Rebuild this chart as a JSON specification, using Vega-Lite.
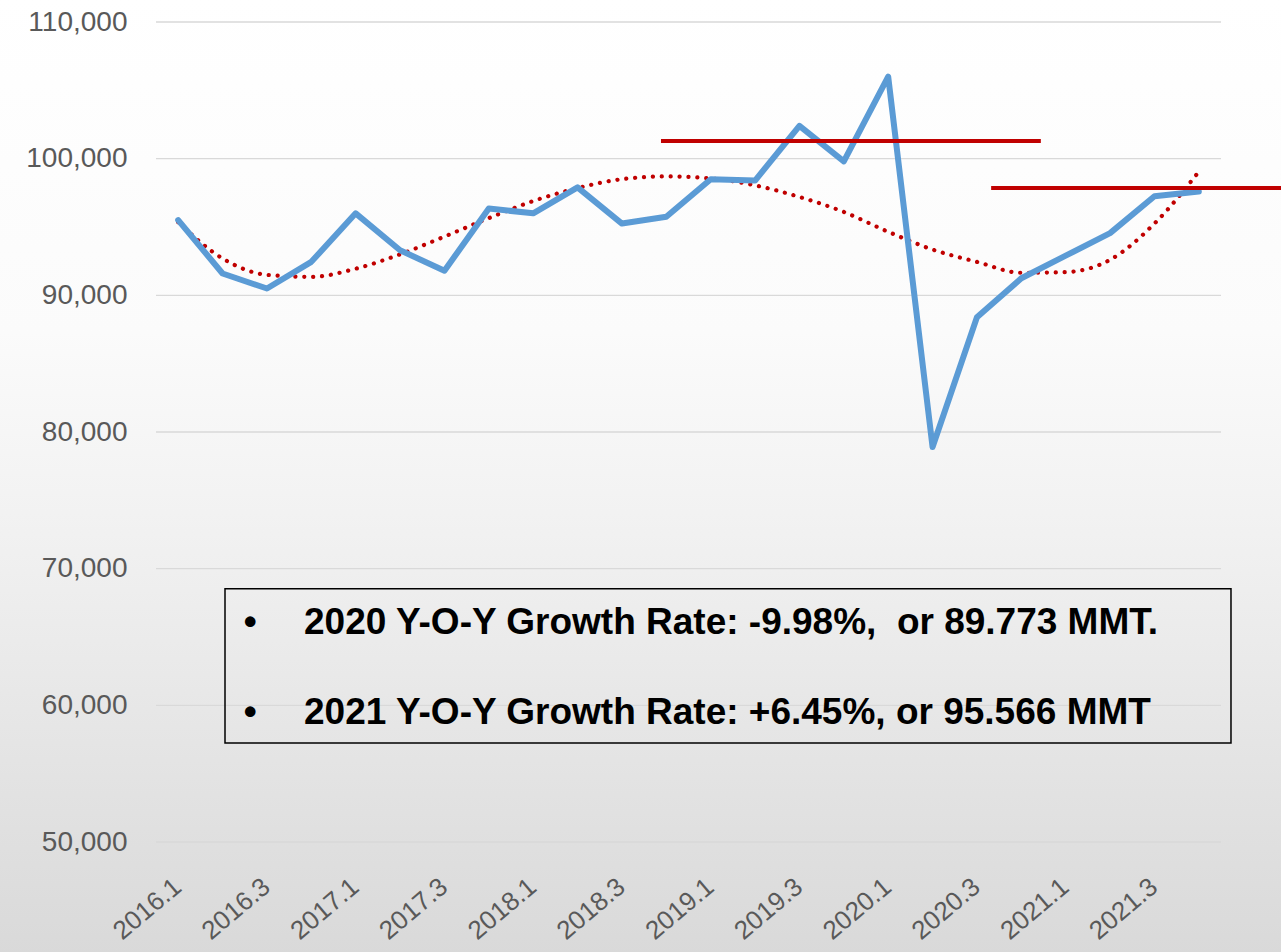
{
  "$schema": "https://vega.github.io/schema/vega-lite/v6.json",
  "width": 1065,
  "height": 820,
  "autosize": {"type": "none"},
  "padding": {"left": 156, "top": 22, "right": 60, "bottom": 110},
  "background": "#ececec",
  "config": {
    "view": {"stroke": null},
    "axis": {"grid": false, "ticks": false, "domain": false, "labelFont": "Liberation Sans", "labelFontSize": 28, "labelColor": "#595959"}
  },
  "resolve": {"scale": {"x": "independent"}, "axis": {"x": "independent"}},
  "datasets": {
    "series": [
      {"quarter": "2016.1", "value": 95500, "trend": 95350},
      {"quarter": "2016.2", "value": 91600, "trend": 92700},
      {"quarter": "2016.3", "value": 90500, "trend": 91500},
      {"quarter": "2016.4", "value": 92450, "trend": 91350},
      {"quarter": "2017.1", "value": 96000, "trend": 91950},
      {"quarter": "2017.2", "value": 93300, "trend": 93000},
      {"quarter": "2017.3", "value": 91800, "trend": 94300},
      {"quarter": "2017.4", "value": 96350, "trend": 95650},
      {"quarter": "2018.1", "value": 96000, "trend": 96900},
      {"quarter": "2018.2", "value": 97900, "trend": 97850},
      {"quarter": "2018.3", "value": 95250, "trend": 98500},
      {"quarter": "2018.4", "value": 95750, "trend": 98700},
      {"quarter": "2019.1", "value": 98500, "trend": 98550},
      {"quarter": "2019.2", "value": 98400, "trend": 98050},
      {"quarter": "2019.3", "value": 102400, "trend": 97200},
      {"quarter": "2019.4", "value": 99800, "trend": 96100},
      {"quarter": "2020.1", "value": 106000, "trend": 94650},
      {"quarter": "2020.2", "value": 78900, "trend": 93350},
      {"quarter": "2020.3", "value": 88400, "trend": 92450},
      {"quarter": "2020.4", "value": 91250, "trend": 91650},
      {"quarter": "2021.1", "value": 92900, "trend": 91700},
      {"quarter": "2021.2", "value": 94550, "trend": 92600},
      {"quarter": "2021.3", "value": 97250, "trend": 95250},
      {"quarter": "2021.4", "value": 97600, "trend": 99050}
    ]
  },
  "layer": [
    {
      "data": {"values": [{"q0": -3.6, "q1": 25.5, "v0": 111800, "v1": 41700}]},
      "mark": {"type": "rect", "fill": {"gradient": "linear", "x1": 0, "y1": 0, "x2": 0, "y2": 1, "stops": [
        {"offset": 0, "color": "#ffffff"},
        {"offset": 0.35, "color": "#fbfbfb"},
        {"offset": 0.6, "color": "#efefef"},
        {"offset": 0.85, "color": "#e1e1e1"},
        {"offset": 1, "color": "#d9d9d9"}
      ]}},
      "encoding": {
        "x": {"field": "q0", "type": "quantitative", "scale": {"domain": [0, 24], "nice": false}, "axis": null},
        "x2": {"field": "q1"},
        "y": {"field": "v0", "type": "quantitative", "title": null, "scale": {"domain": [50000, 110000], "nice": false, "zero": false},
              "axis": {"values": [50000, 60000, 70000, 80000, 90000, 100000, 110000], "format": ",d", "labelPadding": 29, "zindex": 1}},
        "y2": {"field": "v1"}
      }
    },
    {
      "data": {"values": [{"g": 50000}, {"g": 60000}, {"g": 70000}, {"g": 80000}, {"g": 90000}, {"g": 100000}, {"g": 110000}]},
      "mark": {"type": "rule", "color": "#d9d9d9", "strokeWidth": 1.4},
      "encoding": {"y": {"field": "g", "type": "quantitative", "title": null}}
    },
    {
      "data": {"name": "series"},
      "mark": {"type": "line", "color": "#C00000", "strokeWidth": 4.2, "strokeDash": [0.1, 8.8], "strokeCap": "round", "interpolate": "monotone"},
      "encoding": {
        "x": {"field": "quarter", "type": "ordinal", "sort": null, "scale": {"type": "point", "padding": 0.5}, "axis": null},
        "y": {"field": "trend", "type": "quantitative", "title": null}
      }
    },
    {
      "data": {"name": "series"},
      "mark": {"type": "line", "color": "#5B9BD5", "strokeWidth": 6, "strokeJoin": "round", "strokeCap": "round"},
      "encoding": {
        "x": {"field": "quarter", "type": "ordinal", "sort": null, "title": null, "scale": {"type": "point", "padding": 0.5},
              "axis": {"values": ["2016.1", "2016.3", "2017.1", "2017.3", "2018.1", "2018.3", "2019.1", "2019.3", "2020.1", "2020.3", "2021.1", "2021.3"],
                       "labelAngle": -40, "labelFontSize": 26, "labelAlign": "right", "labelBaseline": "top", "labelPadding": 31, "labelOffset": -9, "labelOverlap": false, "labelBound": false, "zindex": 1}},
        "y": {"field": "value", "type": "quantitative", "title": null}
      }
    },
    {
      "data": {"values": [{"q0": 11.38, "q1": 19.94, "v": 101300}, {"q0": 18.82, "q1": 25.4, "v": 97850}]},
      "mark": {"type": "rule", "color": "#C00000", "strokeWidth": 4},
      "encoding": {
        "x": {"field": "q0", "type": "quantitative", "scale": {"domain": [0, 24], "nice": false}, "axis": null},
        "x2": {"field": "q1"},
        "y": {"field": "v", "type": "quantitative", "title": null}
      }
    },
    {
      "data": {"values": [{"q0": 1.555, "q1": 24.225, "v0": 68535, "v1": 57244}]},
      "mark": {"type": "rect", "filled": false, "stroke": "#000000", "strokeWidth": 1.5},
      "encoding": {
        "x": {"field": "q0", "type": "quantitative", "scale": {"domain": [0, 24], "nice": false}, "axis": null},
        "x2": {"field": "q1"},
        "y": {"field": "v0", "type": "quantitative", "title": null},
        "y2": {"field": "v1"}
      }
    },
    {
      "data": {"values": [
        {"t": "•", "q": 1.98, "v": 65220},
        {"t": "•", "q": 1.98, "v": 58635},
        {"t": "2020 Y-O-Y Growth Rate: -9.98%,\u00a0 or 89.773 MMT.", "q": 3.335, "v": 65220},
        {"t": "2021 Y-O-Y Growth Rate: +6.45%, or 95.566 MMT", "q": 3.335, "v": 58635}
      ]},
      "mark": {"type": "text", "align": "left", "baseline": "alphabetic", "font": "Liberation Sans", "fontWeight": "bold", "fontSize": 37, "color": "#000000"},
      "encoding": {
        "x": {"field": "q", "type": "quantitative", "scale": {"domain": [0, 24], "nice": false}, "axis": null},
        "y": {"field": "v", "type": "quantitative", "title": null},
        "text": {"field": "t"}
      }
    }
  ]
}
